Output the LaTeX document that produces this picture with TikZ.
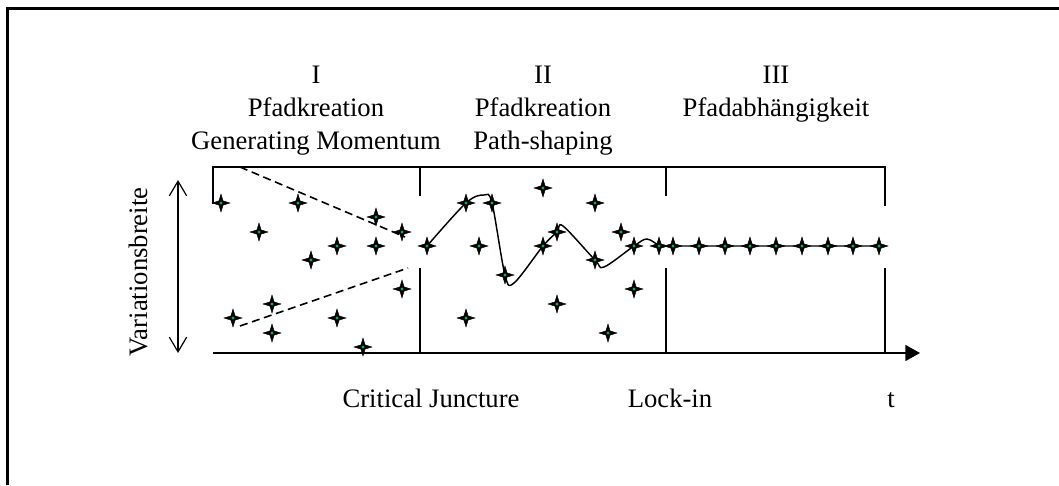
\documentclass[tikz,border=0pt]{standalone}
\usepackage{fontspec}
\setmainfont{Liberation Serif}
\usetikzlibrary{arrows.meta,shapes.geometric}

\colorlet{rahmen}   {black}
\definecolor{sternkern}{RGB}{0,170,135}

\begin{document}
\begin{tikzpicture}[x=0.75pt, y=-0.75pt,
    stern/.style={star, star points=4, star point ratio=3, fill=black, draw=black,
      line width=0.3pt, inner sep=0pt, minimum size=13.5pt,
      path picture={\fill[sternkern] (path picture bounding box.center) circle (1.3pt);}},
    linie/.style={line width=1.25pt},
    txt/.style={font=\fontsize{20}{24.75}\selectfont, inner sep=0pt}]
    \useasboundingbox (0,0) rectangle (1059,485);
    %--- Rahmen ---
    \draw[line width=2.25pt, rahmen] (7,485) -- (7,9) -- (1059,9);
    %--- Phasen-Klammer und Trennlinien ---
    \coordinate (k0) at (213,167);
    \coordinate (k1) at (420,167);
    \coordinate (k2) at (666,167);
    \coordinate (k3) at (885,167);
    \draw[linie] ([yshift=-28]k0) -- (k0) -- (k3) -- ([yshift=-29]k3);
    \draw[linie] (k1) -- ++(0,29) (k2) -- ++(0,29);
    \draw[linie] (420,268) -- (420,353) (666,268) -- (666,353) (885,268) -- (885,353);
    %--- Zeitachse und Variationsbreite ---
    \coordinate (o) at (213,353);
    \coordinate (t) at (920,353);
    \draw[linie, -{Triangle[length=11pt, width=12pt]}] (o) -- (t);
    \coordinate (vo) at (178,180);
    \coordinate (vu) at (178,353);
    \draw[line width=0.9pt, {Straight Barb[length=11pt, width=13pt]}-{Straight Barb[length=11pt, width=13pt]}] (vu) -- (vo);
    \node[txt, rotate=90, anchor=base] (vb) at (147,272) {Variationsbreite};
    %--- Phasentitel ---
    \node[txt, anchor=north, align=center] (ph1) at (316,66) {I\\Pfadkreation\\Generating Momentum};
    \node[txt, anchor=north, align=center] (ph2) at (543,66) {II\\Pfadkreation\\Path-shaping};
    \node[txt, anchor=north, align=center] (ph3) at (776,66) {III\\Pfadabhängigkeit};
    \node[txt, anchor=base] (cj) at (431,407) {Critical Juncture};
    \node[txt, anchor=base] (li) at (670,407) {Lock-in};
    \node[txt, anchor=base] (tt) at (891,407) {t};
    %--- Trichter (gestrichelt) ---
    \coordinate (d1) at (240,167);
    \coordinate (d2) at (405,237);
    \coordinate (d3) at (240,326);
    \coordinate (d4) at (408,268);
    \draw[line width=1.2pt, dash pattern=on 6pt off 3.5pt] (d1) -- (d2) (d3) -- (d4);
    %--- Pfad: Sterne auf der Kurve ---
    \foreach \x/\y [count=\i from 0] in {427/246, 466/203, 492/203, 505/275, 543/246,
        557/232, 595/260, 634/246, 659/246}
      \coordinate (b\i) at (\x,\y);
    \foreach \x [count=\i] in {673,699,725,750,776,802,828,853,879}
      \coordinate (r\i) at (\x,246);
    \draw[line width=1.1pt] plot[smooth, tension=0.55] coordinates {(b0) (b1) (484,195) (b2) (b3)
        (514,283) (b4) (b5) (563,226) (b6) (604,267) (b7) (647,239) (b8)}
      -- (r9);
    \foreach \i in {0,...,8} \node[stern] (sb\i) at (b\i) {};
    \foreach \i in {1,...,9} \node[stern] (sr\i) at (r\i) {};
    %--- Streuung in Phase I und II ---
    \foreach \x/\y [count=\i] in {221/203, 298/203, 376/217, 402/232, 259/232, 337/246,
        376/246, 311/260, 402/289, 272/304, 233/318, 337/318, 272/333, 363/347,
        479/246, 543/188, 595/203, 621/232, 634/289, 466/318, 557/304, 608/333}
      \node[stern] (s\i) at (\x,\y) {};
\end{tikzpicture}
\end{document}
